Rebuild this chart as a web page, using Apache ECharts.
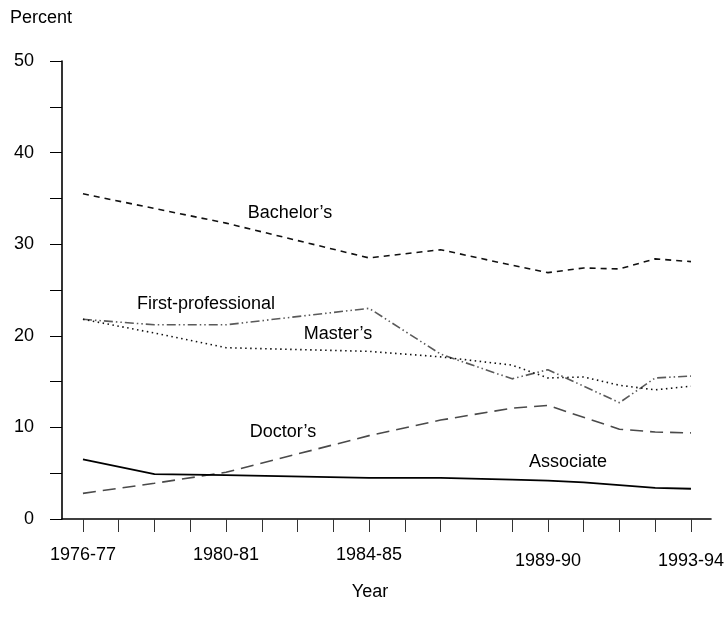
<!DOCTYPE html>
<html>
<head>
<meta charset="utf-8">
<script src="https://cdn.jsdelivr.net/npm/echarts@6/dist/echarts.min.js"></script>
<style>
  html, body { margin: 0; padding: 0; background: #fff; }
  #chart { width: 727px; height: 623px; }
</style>
</head>
<body>
<div id="chart"></div>
<script>
// 全部学年(x 轴刻度)与有数据的学年
var yearLabels = ['1976-77', '1977-78', '1978-79', '1979-80', '1980-81', '1981-82',
  '1982-83', '1983-84', '1984-85', '1985-86', '1986-87', '1987-88', '1988-89',
  '1989-90', '1990-91', '1991-92', '1992-93', '1993-94'];
var shownLabels = ['1976-77', '1980-81', '1984-85', '1989-90', '1993-94'];
var lowLabels = ['1989-90', '1993-94'];   // 这两个标签在原图里略低
var dataYears = ['1976-77', '1978-79', '1980-81', '1984-85', '1986-87', '1988-89',
  '1989-90', '1990-91', '1991-92', '1992-93', '1993-94'];

// 各学位占比(%)
var bachelors = [35.5, 33.9, 32.3, 28.5, 29.4, 27.7, 26.9, 27.4, 27.3, 28.4, 28.1];
var firstProf = [21.8, 21.2, 21.2, 23.0, 18.0, 15.3, 16.3, null, 12.7, 15.4, 15.6];
var masters   = [21.8, 20.3, 18.7, 18.3, 17.7, 16.8, 15.4, 15.5, 14.6, 14.1, 14.5];
var doctors   = [2.8, 3.9, 5.1, 9.1, 10.8, 12.1, 12.4, null, 9.8, 9.5, 9.4];
var associate = [6.5, 4.9, 4.8, 4.5, 4.5, 4.3, 4.2, 4.0, 3.7, 3.4, 3.3];

var FONT = 'Liberation Sans';
var FS = 18;

function pairs(vals) {
  return dataYears.map(function (y, i) { return [yearLabels.indexOf(y), vals[i]]; });
}
var tickIdx = yearLabels.map(function (y, i) { return i; });
var labelIdx = shownLabels.map(function (y) { return yearLabels.indexOf(y); });

function line(name, vals, color, type, width) {
  return {
    name: name, type: 'line', data: pairs(vals), connectNulls: true,
    symbol: 'none', silent: true, animation: false,
    lineStyle: { color: color, width: width || 1.6, type: type }
  };
}

function note(text, x, y) {
  return {
    type: 'text', x: x, y: y, silent: true,
    style: { text: text, fill: '#000', font: FS + 'px "' + FONT + '"',
             textAlign: 'center', textVerticalAlign: 'middle' }
  };
}

var chart = echarts.init(document.getElementById('chart'), null, { renderer: 'canvas' });
chart.setOption({
  animation: false,
  backgroundColor: '#fff',
  textStyle: { fontFamily: FONT },
  grid: { left: 62, right: 15, top: 61, bottom: 104, containLabel: false },
  xAxis: {
    type: 'value', min: -0.586, max: 17.56,
    splitLine: { show: false },
    axisLine: { show: true, onZero: false, lineStyle: { color: '#000', width: 1.6 } },
    axisTick: { show: true, length: 13, customValues: tickIdx,
                lineStyle: { color: '#333', width: 1 } },
    axisLabel: {
      customValues: labelIdx, margin: 27, color: '#000', fontSize: FS, fontFamily: FONT,
      formatter: function (v) {
        var s = yearLabels[Math.round(v)];
        return lowLabels.indexOf(s) >= 0 ? '{b|' + s + '}' : '{a|' + s + '}';
      },
      rich: {
        a: { fontSize: FS, fontFamily: FONT, color: '#000' },
        b: { fontSize: FS, fontFamily: FONT, color: '#000', padding: [6, 0, 0, 0] }
      }
    }
  },
  yAxis: {
    type: 'value', min: 0, max: 50, interval: 5,
    splitLine: { show: false },
    axisLine: { show: true, onZero: false, lineStyle: { color: '#000', width: 1.6 } },
    axisTick: { show: true, length: 12, lineStyle: { color: '#000', width: 1 } },
    axisLabel: {
      margin: 28, color: '#000', fontSize: FS, fontFamily: FONT,
      formatter: function (v) { return v % 10 === 0 ? String(v) : ''; }
    }
  },
  series: [
    line("Bachelor’s", bachelors, '#111', [6, 5]),
    line('First-professional', firstProf, '#5a5a5a', [9, 3, 1.5, 3, 1.5, 3]),
    line("Master’s", masters, '#111', [1.5, 3.5]),
    line("Doctor’s", doctors, '#4a4a4a', [13, 7]),
    line('Associate', associate, '#000', 'solid', 1.8)
  ],
  graphic: [
    { type: 'text', left: 10, top: 9, silent: true,
      style: { text: 'Percent', fill: '#000', font: FS + 'px "' + FONT + '"' } },
    note('Year', 370, 592),
    note("Bachelor’s", 290, 213),
    note('First-professional', 206, 304),
    note("Master’s", 338, 334),
    note("Doctor’s", 283, 432),
    note('Associate', 568, 462)
  ]
});
</script>
</body>
</html>
